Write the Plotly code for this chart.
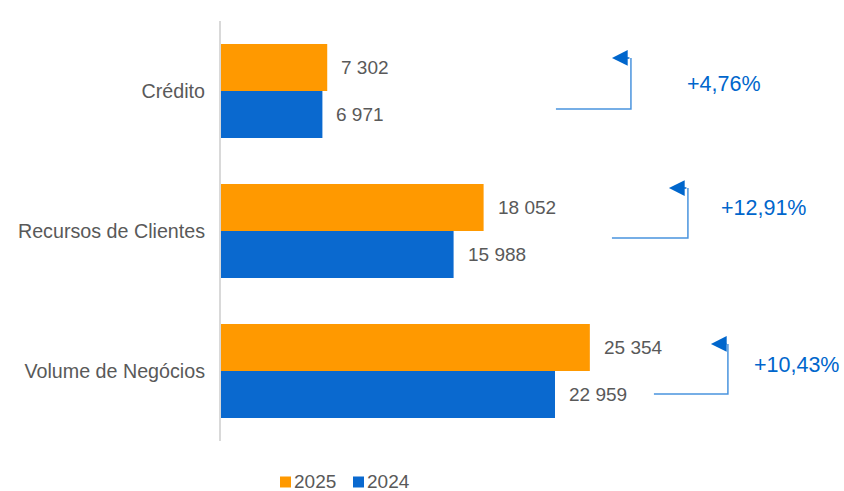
import plotly.graph_objects as go

categories = ["Crédito", "Recursos de Clientes", "Volume de Negócios"]
values_2025 = [7302, 18052, 25354]
values_2024 = [6971, 15988, 22959]
labels_2025 = ["7 302", "18 052", "25 354"]
labels_2024 = ["6 971", "15 988", "22 959"]
growth_labels = ["+4,76%", "+12,91%", "+10,43%"]
series_names = ["2025", "2024"]

ORANGE = "#FF9900"
BLUE = "#0A69CF"
GRAY = "#595959"
ARROW = "#0066CC"
ARROW_LINE = "#4A94DE"
FONT = "Liberation Sans, Arial, sans-serif"

fig = go.Figure()
fig.add_trace(go.Bar(name=series_names[0], y=categories, x=values_2025, orientation="h",
                     marker=dict(color=ORANGE, line=dict(width=0)), showlegend=False))
fig.add_trace(go.Bar(name=series_names[1], y=categories, x=values_2024, orientation="h",
                     marker=dict(color=BLUE, line=dict(width=0)), showlegend=False))

bargap = 0.33
half = (1 - bargap) / 4  # center offset of each bar within the group

annotations = []
for i in range(len(categories)):
    annotations.append(dict(x=values_2025[i], y=i - half, xref="x", yref="y", text=labels_2025[i],
                            showarrow=False, xanchor="left", xshift=12,
                            font=dict(size=19, color=GRAY, family=FONT)))
    annotations.append(dict(x=values_2024[i], y=i + half, xref="x", yref="y", text=labels_2024[i],
                            showarrow=False, xanchor="left", xshift=12,
                            font=dict(size=19, color=GRAY, family=FONT)))

# Elbow arrows (layout decoration positions)
arrow_specs = [
    # x_start, x_corner, x_tip, y_low, y_top, x_text, y_text
    (23024, 28179, 26873, 0.129, -0.236, 34570, -0.05),
    (26873, 32096, 30790, 1.05, 0.693, 37320, 0.836),
    (29759, 34845, 33677, 2.164, 1.807, 39588, 1.957),
]
shapes = []
for i, (xs, xc, xt, yl, yt, xtx, ytx) in enumerate(arrow_specs):
    shapes.append(dict(type="path", xref="x", yref="y",
                       path=f"M {xs},{yl} L {xc},{yl} L {xc},{yt}",
                       line=dict(color=ARROW_LINE, width=1.5)))
    annotations.append(dict(x=xt, y=yt, ax=xc, ay=yt, xref="x", yref="y", axref="x", ayref="y",
                            text="", showarrow=True, arrowhead=2, arrowsize=2.1, arrowwidth=1.5,
                            arrowcolor=ARROW))
    annotations.append(dict(x=xtx, y=ytx, xref="x", yref="y", text=growth_labels[i],
                            showarrow=False, xanchor="center",
                            font=dict(size=21.5, color=ARROW, family=FONT)))

# Custom legend (paper coordinates)
legend_items = [(series_names[0], ORANGE, 0.0966), (series_names[1], BLUE, 0.2160)]
sq_w = 11 / 611
sq_h = 11 / 420
ly = -0.0976
for name, col, lx in legend_items:
    shapes.append(dict(type="rect", xref="paper", yref="paper",
                       x0=lx, x1=lx + sq_w, y0=ly - sq_h / 2, y1=ly + sq_h / 2,
                       fillcolor=col, line=dict(width=0)))
    annotations.append(dict(x=lx + sq_w, y=ly, xref="paper", yref="paper", text=name,
                            showarrow=False, xanchor="left", yanchor="middle", xshift=1,
                            font=dict(size=19, color=GRAY, family=FONT)))

fig.update_layout(
    width=844, height=491,
    margin=dict(l=221, r=12, t=21, b=50, autoexpand=False),
    paper_bgcolor="white", plot_bgcolor="white",
    barmode="group", bargap=bargap, bargroupgap=0,
    font=dict(family=FONT, size=19, color=GRAY),
    showlegend=False,
    xaxis=dict(range=[0, 42000], visible=False, showgrid=False, zeroline=False),
    yaxis=dict(autorange="reversed", showgrid=False, zeroline=False,
               showline=True, linecolor="#D9D9D9", linewidth=2,
               ticks="", ticklabelstandoff=10, automargin=False,
               tickfont=dict(size=19.7, color=GRAY, family=FONT)),
    shapes=shapes,
    annotations=annotations,
)

fig.write_html("out.html", config={"displayModeBar": False},
               post_script="document.body.style.margin='0px';")
